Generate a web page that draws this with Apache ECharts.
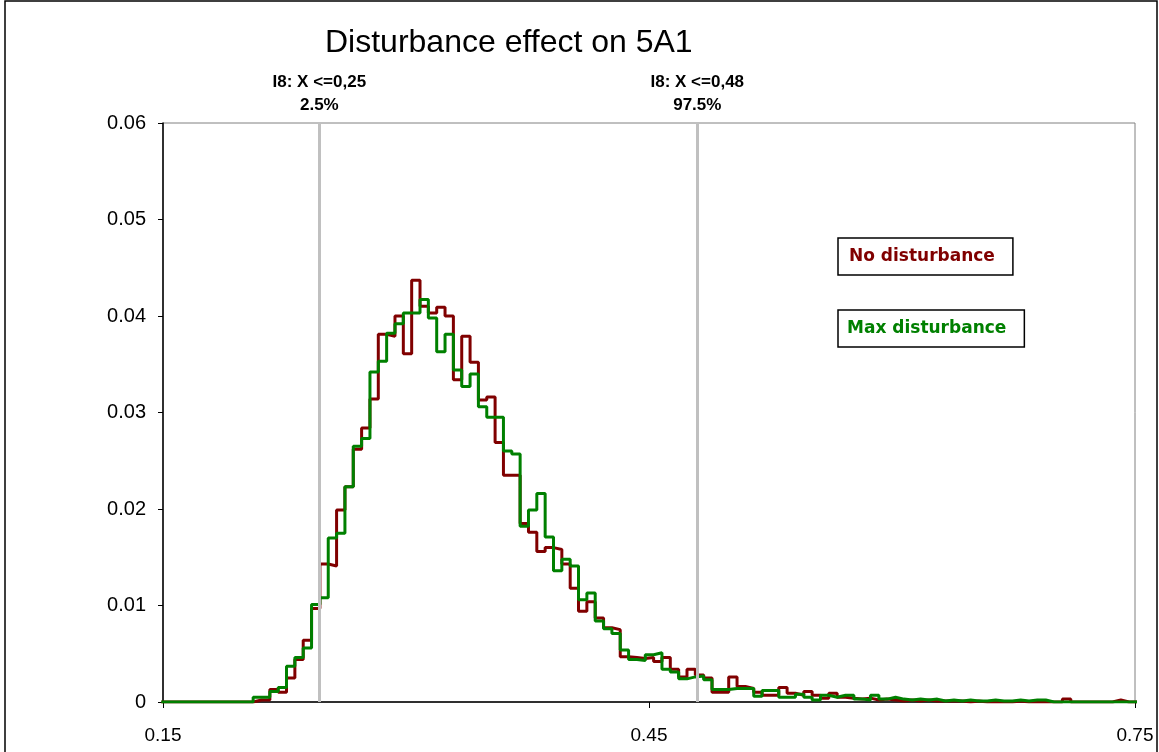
<!DOCTYPE html>
<html>
<head>
<meta charset="utf-8">
<script src="https://cdn.jsdelivr.net/npm/echarts@6/dist/echarts.min.js"></script>
<style>
  html, body { margin: 0; padding: 0; background: #fff; }
  #chart { width: 1159px; height: 752px; }
</style>
</head>
<body>
<div id="chart"></div>
<script>
// histogram bins: left edge of bin i = binStart + i * binWidth
var binStart = 0.149;
var binWidth = 0.00515;

var noDisturbance = [
  0,0,0,0,0,0,0,0,0,0,0,
  0.0002,0.0002,0.0013,0.0010,0.0025,0.0044,0.0064,0.0097,0.0143,
  0.0141,0.0199,0.0223,0.0262,0.0284,0.0314,0.0381,0.0379,0.0400,0.0361,
  0.0437,0.0410,0.0403,0.0409,0.0400,0.0334,0.0379,0.0352,0.0313,0.0316,
  0.0269,0.0235,0.0235,0.0185,0.0176,0.0156,0.0160,0.0158,0.0143,0.0118,
  0.0094,0.0104,0.0087,0.0077,0.0075,0.0047,0.0046,0.0045,0.0046,0.0042,
  0.0046,0.0034,0.0026,0.0034,0.0028,0.0025,0.0010,0.0010,0.0026,0.0016,
  0.0014,0.0010,0.0007,0.0007,0.0015,0.0009,0.0007,0.0011,0.0007,0.0004,
  0.0009,0.0005,0.0004,0.0003,0.0004,0.0002,0.0003,0.0002,0.0001,0.0002,
  0.0001,0.0002,0.0001,0.0001,0.0001,0.0001,0,0.0001,0,0,
  0,0,0.0001,0,0,0,0,0,0.0003,0,
  0,0,0,0,0.0002,0,0
];

var maxDisturbance = [
  0,0,0,0,0,0,0,0,0,0,0,
  0.0005,0.0005,0.0011,0.0015,0.0037,0.0046,0.0056,0.0101,0.0108,
  0.0170,0.0175,0.0223,0.0265,0.0273,0.0342,0.0353,0.0382,0.0392,0.0403,
  0.0403,0.0417,0.0398,0.0363,0.0381,0.0344,0.0327,0.0340,0.0306,0.0295,
  0.0295,0.0260,0.0257,0.0182,0.0199,0.0216,0.0171,0.0136,0.0148,0.0141,
  0.0106,0.0113,0.0084,0.0076,0.0071,0.0054,0.0044,0.0043,0.0049,0.0051,
  0.0034,0.0031,0.0024,0.0026,0.0027,0.0023,0.0013,0.0013,0.0014,0.0014,
  0.0014,0.0006,0.0012,0.0012,0.0005,0.0005,0.0008,0.0005,0.0002,0.0007,
  0.0005,0.0007,0.0007,0.0003,0.0002,0.0007,0.0003,0.0005,0.0003,0.0002,
  0.0003,0.0002,0.0003,0.0001,0.0002,0.0001,0.0002,0.0001,0.0001,0.0002,
  0.0001,0.0001,0.0002,0.0001,0.0002,0.0002,0,0,0,0,
  0,0,0,0,0,0,0
];

// percentile markers
var markerX = [0.2465, 0.4798];
var markerLabels = ['I8: X <=0,25\n2.5%', 'I8: X <=0,48\n97.5%'];

function toSteps(values) {
  var pts = values.map(function (v, i) { return [binStart + i * binWidth, v]; });
  pts.push([binStart + values.length * binWidth, 0]);
  return pts;
}

var legendText = { fontFamily: 'DejaVu Sans', fontWeight: 'bold', fontSize: 17 };

var chart = echarts.init(document.getElementById('chart'));
var option = {
  animation: false,
  backgroundColor: '#fff',
  title: {
    text: 'Disturbance effect on 5A1',
    left: 320,
    top: 22,
    textStyle: { fontFamily: 'Liberation Sans', fontSize: 32, fontWeight: 'normal', color: '#000' }
  },
  legend: [
    {
      data: [{ name: 'No disturbance', textStyle: { color: '#800000' } }],
      left: 838, top: 238,
      icon: 'none', itemWidth: 0, itemGap: 0,
      padding: [10, 18, 10, 6],
      borderColor: '#000', borderWidth: 1.5,
      selectedMode: false,
      textStyle: legendText
    },
    {
      data: [{ name: 'Max disturbance', textStyle: { color: '#008000' } }],
      left: 838, top: 310,
      icon: 'none', itemWidth: 0, itemGap: 0,
      padding: [10, 18, 10, 4],
      borderColor: '#000', borderWidth: 1.5,
      selectedMode: false,
      textStyle: legendText
    }
  ],
  graphic: [{
    type: 'rect',
    shape: { x: 5, y: 1, width: 1152, height: 800 },
    style: { fill: 'none', stroke: '#000', lineWidth: 1.5 },
    silent: true
  }],
  grid: {
    left: 163, right: 24, top: 123, bottom: 50,
    show: true, borderColor: '#808080', borderWidth: 1
  },
  xAxis: {
    type: 'value',
    min: 0.15, max: 0.75, interval: 0.3,
    splitLine: { show: false },
    axisLine: { lineStyle: { color: '#000', width: 1.5 } },
    axisTick: { length: 6, lineStyle: { color: '#000' } },
    axisLabel: {
      margin: 24, color: '#000', fontFamily: 'Liberation Sans', fontSize: 19,
      formatter: function (v) { return v.toFixed(2); }
    }
  },
  yAxis: {
    type: 'value',
    min: 0, max: 0.06, interval: 0.01,
    splitLine: { show: false },
    axisLine: { show: true, lineStyle: { color: '#000', width: 1.5 } },
    axisTick: { show: true, length: 5, lineStyle: { color: '#000' } },
    axisLabel: {
      margin: 17, color: '#000', fontFamily: 'Liberation Sans', fontSize: 20,
      formatter: function (v) { return v === 0 ? '0' : v.toFixed(2); }
    }
  },
  series: [
    {
      name: 'No disturbance',
      type: 'line',
      step: 'end',
      showSymbol: false,
      data: toSteps(noDisturbance),
      lineStyle: { color: '#800000', width: 3 },
      itemStyle: { color: '#800000' },
      markLine: {
        silent: true,
        symbol: 'none',
        precision: 4,
        lineStyle: { color: '#c0c0c0', width: 3, type: 'solid' },
        label: {
          show: true, position: 'end', distance: 6,
          color: '#000', fontFamily: 'Liberation Sans', fontWeight: 'bold', fontSize: 17,
          lineHeight: 23, align: 'center'
        },
        data: markerX.map(function (x, i) {
          return { xAxis: x, label: { formatter: markerLabels[i] } };
        })
      }
    },
    {
      name: 'Max disturbance',
      type: 'line',
      step: 'end',
      showSymbol: false,
      data: toSteps(maxDisturbance),
      lineStyle: { color: '#008000', width: 3 },
      itemStyle: { color: '#008000' }
    }
  ]
};
chart.setOption(option);
</script>
</body>
</html>
